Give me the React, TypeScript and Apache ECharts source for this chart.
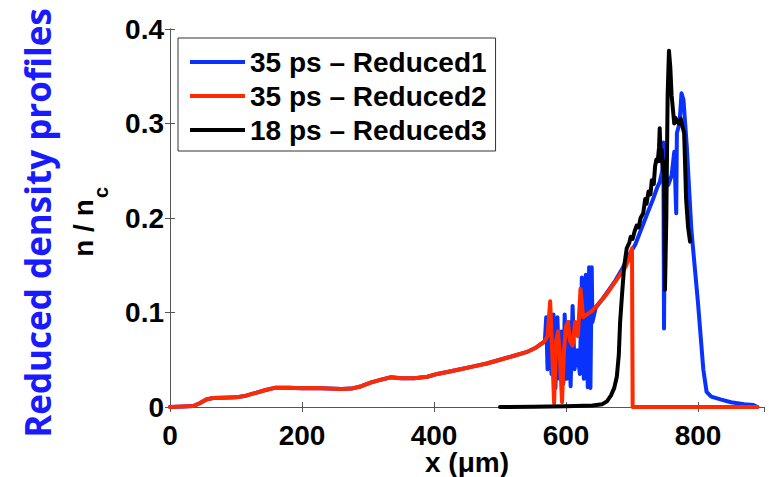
import React, { useEffect, useRef } from "react";
import * as echarts from "echarts";

const xTicks = [0, 200, 400, 600, 800];
const yTicks = [0, 0.1, 0.2, 0.3, 0.4];

const seriesNames = ["35 ps – Reduced1", "35 ps – Reduced2", "18 ps – Reduced3"];

// shared early profile (blue and red coincide up to ~565 µm)
const baseProfile: [number, number][] = [
  [0, 0], [20, 0.0005], [35, 0.001], [45, 0.004], [55, 0.008], [65, 0.0095],
  [80, 0.0098], [100, 0.0102], [115, 0.012], [130, 0.015], [145, 0.018],
  [160, 0.0205], [180, 0.0205], [200, 0.0198], [220, 0.02], [240, 0.0195],
  [260, 0.019], [275, 0.0195], [290, 0.022], [305, 0.026], [320, 0.029],
  [335, 0.0315], [350, 0.0305], [370, 0.0305], [390, 0.032], [405, 0.035],
  [420, 0.037], [440, 0.04], [460, 0.043], [480, 0.046], [500, 0.05],
  [520, 0.054], [540, 0.058], [555, 0.063], [565, 0.068],
];

const reduced1Tail: [number, number][] = [
  [568, 0.07], [570, 0.095], [572, 0.04], [575, 0.09], [578, 0.035], [581, 0.098],
  [584, 0.02], [587, 0.095], [590, 0.03], [593, 0.08], [596, 0.025], [598, 0.098],
  [601, 0.03], [604, 0.09], [607, 0.022], [610, 0.107], [613, 0.04], [617, 0.06],
  [621, 0.035], [624, 0.137], [627, 0.03], [630, 0.14], [633, 0.021], [635, 0.148],
  [637, 0.02], [639, 0.148], [640, 0.09], [645, 0.105], [655, 0.114], [665, 0.124],
  [675, 0.134], [685, 0.146], [695, 0.16], [705, 0.172], [715, 0.19], [725, 0.208],
  [732, 0.22], [738, 0.232], [742, 0.238], [746, 0.25], [747.5, 0.28], [748.5, 0.083],
  [750, 0.25], [755, 0.235], [760, 0.245], [764, 0.27], [767, 0.205], [768, 0.29],
  [772, 0.3], [775, 0.332], [778, 0.325], [783, 0.276], [790, 0.187], [800, 0.11],
  [808, 0.04], [813, 0.016], [820, 0.011], [834, 0.008], [850, 0.005], [870, 0.003],
  [884, 0.002], [890, 0],
];

const reduced2Tail: [number, number][] = [
  [568, 0.07], [572, 0.075], [576, 0.112], [579, 0.06], [582, 0.004], [585, 0.07],
  [588, 0.08], [591, 0.05], [594, 0.005], [597, 0.06], [600, 0.085], [603, 0.09],
  [606, 0.07], [610, 0.065], [614, 0.09], [618, 0.075], [622, 0.125], [626, 0.095],
  [632, 0.098], [640, 0.102], [650, 0.11], [660, 0.118], [670, 0.128], [680, 0.138],
  [690, 0.148], [696, 0.158], [700, 0.168], [701, 0], [890, 0],
];

const reduced3: [number, number][] = [
  [500, 0], [550, 0.0003], [600, 0.0007], [640, 0.0015], [655, 0.003], [662, 0.006],
  [668, 0.012], [673, 0.02], [677, 0.032], [680, 0.055], [682, 0.09], [685, 0.12],
  [688, 0.148], [692, 0.168], [696, 0.174], [698, 0.18], [701, 0.178], [704, 0.186],
  [707, 0.192], [710, 0.19], [713, 0.2], [717, 0.205], [720, 0.22], [722, 0.215],
  [725, 0.228], [728, 0.225], [730, 0.24], [733, 0.236], [735, 0.255], [737, 0.262],
  [739, 0.26], [741, 0.275], [742, 0.295], [743.5, 0.26], [745, 0.272], [747, 0.25],
  [748.5, 0.26], [750, 0.124], [752, 0.2], [754, 0.33], [756, 0.377], [758, 0.36],
  [760, 0.33], [762, 0.315], [764, 0.3], [766, 0.306], [768, 0.302], [771, 0.3],
  [774, 0.305], [776, 0.298], [779, 0.29], [782, 0.22], [785, 0.19], [788, 0.175],
];

const reduced1 = [...baseProfile, ...reduced1Tail];
const reduced2 = [...baseProfile, ...reduced2Tail];

const colors = ["#0a32ff", "#ff2a00", "#000000"];
const FONT = "Liberation Sans";

export default function App() {
  const ref = useRef<HTMLDivElement>(null);
  useEffect(() => {
    if (!ref.current) return;
    const chart = echarts.init(ref.current, undefined, { renderer: "svg" });
    const axisLineStyle = { color: "#555", width: 1 };
    const labelStyle = { color: "#000", fontSize: 28, fontWeight: "bold" as const, fontFamily: FONT };
    chart.setOption({
      animation: false,
      backgroundColor: "#fff",
      grid: { left: 170, right: 5, top: 29, bottom: 70, containLabel: false },
      legend: {
        left: 178,
        top: 38,
        orient: "vertical",
        data: seriesNames,
        icon: "rect",
        itemWidth: 55,
        itemHeight: 4,
        itemGap: 6,
        padding: [10, 9, 7, 12],
        borderColor: "#333",
        borderWidth: 1,
        backgroundColor: "#fff",
        textStyle: { color: "#000", fontSize: 28, fontWeight: "bold", fontFamily: FONT },
      },
      xAxis: [
        {
          type: "value",
          min: 0,
          max: 900,
          interval: 200,
          axisLine: { lineStyle: axisLineStyle },
          axisTick: { inside: true, length: 5, lineStyle: axisLineStyle },
          splitLine: { show: false },
          axisLabel: {
            ...labelStyle,
            margin: 14,
            showMaxLabel: false,
            formatter: (v: number) => (xTicks.includes(v) ? String(v) : ""),
          },
        },
        {
          type: "value",
          position: "top",
          min: 0,
          max: 900,
          interval: 200,
          axisLine: { lineStyle: axisLineStyle },
          axisTick: { inside: true, length: 5, lineStyle: axisLineStyle },
          splitLine: { show: false },
          axisLabel: { show: false },
        },
      ],
      yAxis: [
        {
          type: "value",
          min: 0,
          max: 0.4,
          interval: 0.1,
          axisLine: { show: true, lineStyle: axisLineStyle },
          axisTick: { show: true, inside: true, length: 5, lineStyle: axisLineStyle },
          splitLine: { show: false },
          axisLabel: {
            ...labelStyle,
            margin: 6,
            formatter: (v: number) => {
              const t = yTicks.find((k) => Math.abs(k - v) < 1e-9);
              return t === undefined ? "" : String(t);
            },
          },
        },
        {
          type: "value",
          position: "right",
          min: 0,
          max: 0.4,
          interval: 0.1,
          axisLine: { show: true, lineStyle: axisLineStyle },
          axisTick: { show: true, inside: true, length: 5, lineStyle: axisLineStyle },
          splitLine: { show: false },
          axisLabel: { show: false },
        },
      ],
      series: [
        { name: seriesNames[0], data: reduced1, color: colors[0] },
        { name: seriesNames[1], data: reduced2, color: colors[1] },
        { name: seriesNames[2], data: reduced3, color: colors[2] },
      ].map((s) => ({
        ...s,
        type: "line",
        showSymbol: false,
        symbol: "none",
        lineStyle: { width: 4, color: s.color, join: "round", cap: "round" },
        itemStyle: { color: s.color },
        clip: true,
      })),
      graphic: [
        {
          type: "text",
          x: 37,
          y: 223,
          rotation: Math.PI / 2,
          style: {
            text: "Reduced density profiles",
            fill: "#1a1aff",
            font: `bold 35px "Open Sans"`,
            textAlign: "center",
            textVerticalAlign: "middle",
          },
        },
        {
          type: "group",
          x: 69,
          y: 228,
          rotation: Math.PI / 2,
          children: [
            {
              type: "text",
              x: 0,
              y: 0,
              style: {
                text: "n / n",
                fill: "#000",
                font: `bold 28px "${FONT}"`,
                textAlign: "center",
                textVerticalAlign: "top",
              },
            },
            {
              type: "text",
              x: 30,
              y: 22,
              style: {
                text: "c",
                fill: "#000",
                font: `bold 20px "${FONT}"`,
                textAlign: "left",
                textVerticalAlign: "top",
              },
            },
          ],
        },
        {
          type: "text",
          x: 467,
          y: 462,
          style: {
            text: "x (μm)",
            fill: "#000",
            font: `bold 28px "${FONT}"`,
            textAlign: "center",
            textVerticalAlign: "middle",
          },
        },
      ],
    });
    return () => chart.dispose();
  }, []);
  return <div ref={ref} style={{ position: "absolute", left: 0, top: 0, width: 769, height: 477 }} />;
}
